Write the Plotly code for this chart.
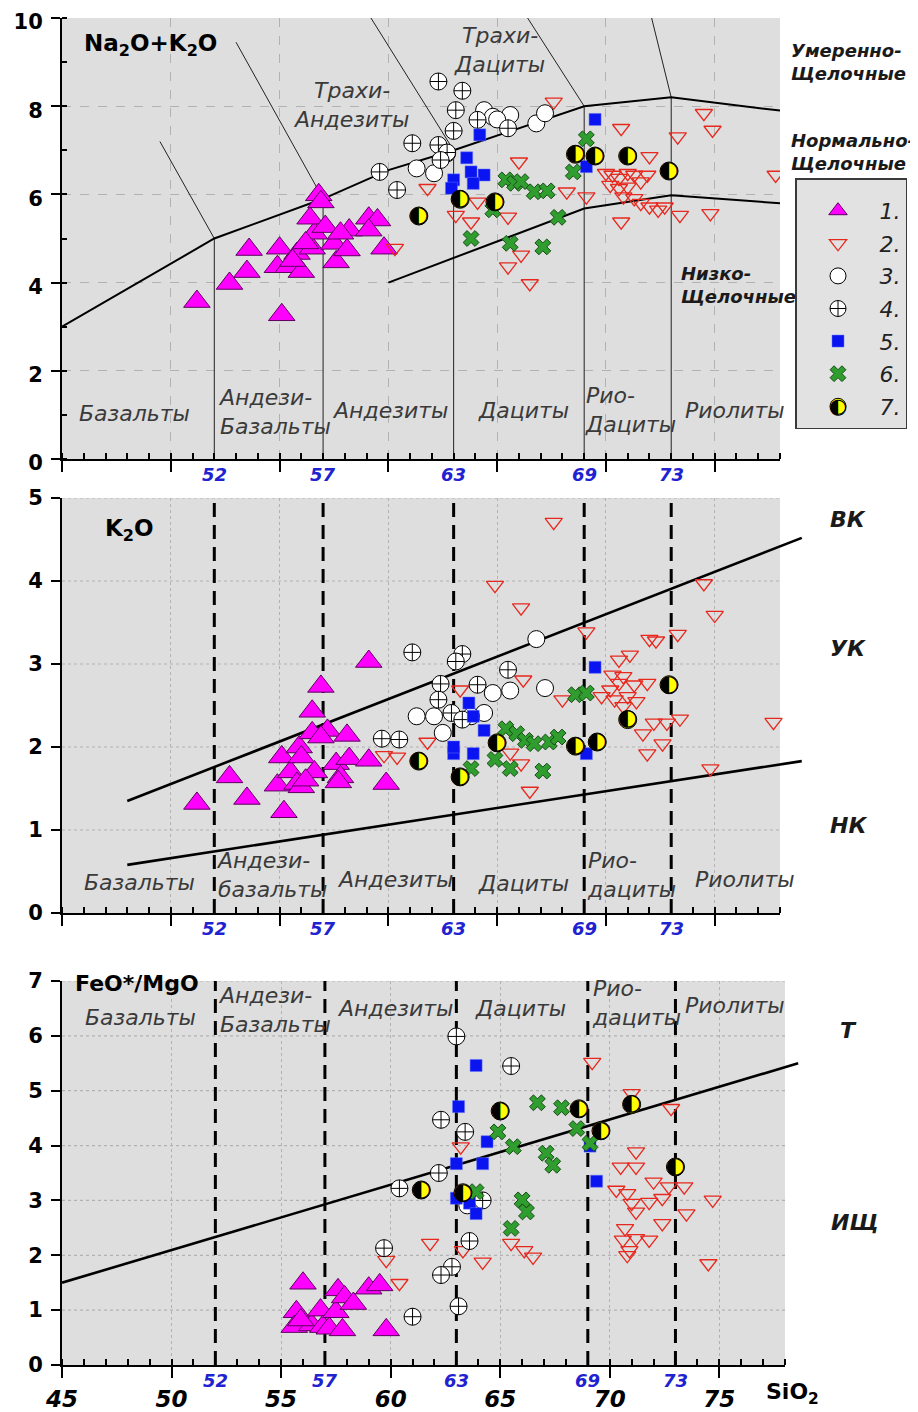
import plotly.graph_objects as go

# ------------------------------------------------------------------ data
# group 1 (magenta triangles)
g1_tas_sio2 = [51.2, 52.7, 53.5, 53.6, 55.1, 55.0, 54.9, 55.4, 56.0, 55.8, 56.5, 56.6, 56.4, 56.8,
               56.9, 57.1, 57.5, 57.6, 58.1, 58.2, 57.8, 59.1, 59.5, 59.1, 59.8, 55.6, 56.2]
g1_tas_alk = [3.57, 3.98, 4.25, 4.75, 3.27, 4.78, 4.36, 4.36, 4.25, 4.66, 4.78, 5.12, 5.46, 5.99,
              5.83, 5.27, 4.89, 4.47, 4.74, 5.19, 5.12, 5.46, 5.42, 5.19, 4.78, 4.50, 4.90]
g1_k_sio2 = [51.2, 52.7, 53.5, 55.2, 54.9, 55.1, 55.5, 55.8, 56.0, 55.9, 56.0, 56.5, 56.5, 56.6,
             56.2, 56.9, 57.2, 57.6, 57.8, 57.7, 58.1, 58.2, 59.1, 59.1, 59.9, 56.9]
g1_k2o = [1.32, 1.64, 1.38, 1.22, 1.54, 1.88, 1.70, 1.56, 1.52, 2.00, 1.88, 2.43, 2.17, 1.70,
          1.60, 2.73, 2.20, 1.80, 1.64, 1.58, 2.14, 1.86, 3.03, 1.84, 1.56, 2.12]
g1_f_sio2 = [56.0, 55.7, 55.6, 56.4, 56.8, 56.9, 57.2, 57.6, 57.5, 57.8, 57.9, 58.3, 59.0, 59.5, 59.8, 55.9]
g1_femg = [1.49, 0.97, 0.70, 0.73, 1.00, 0.70, 0.67, 1.37, 0.97, 0.64, 1.24, 1.12, 1.40, 1.46, 0.64, 0.82]

# group 2 (red open triangles)
g2_tas_sio2 = [60.3, 61.8, 63.1, 67.6, 66.0, 70.7, 72.0, 73.3, 74.5, 74.9, 64.1, 63.8, 65.5, 68.2,
               69.1, 66.1, 65.5, 66.5, 70.7, 73.4, 74.8, 70.0, 70.3, 70.6, 71.0, 71.3, 70.2, 70.6,
               71.0, 71.6, 71.9, 70.8, 71.3, 71.6, 72.0, 72.4, 72.7, 77.8]
g2_tas_alk = [4.78, 6.14, 5.53, 8.10, 6.74, 7.50, 6.86, 7.31, 7.84, 7.46, 5.83, 5.38, 5.49, 6.06,
              5.95, 4.63, 4.36, 3.98, 5.38, 5.53, 5.57, 6.48, 6.44, 6.37, 6.48, 6.44, 6.21, 6.14,
              6.17, 6.29, 6.44, 5.95, 5.91, 5.80, 5.72, 5.65, 5.72, 6.44]
g2_k_sio2 = [66.1, 69.1, 72.0, 72.3, 73.3, 71.1, 70.6, 70.3, 70.8, 71.3, 71.9, 70.6, 70.2, 71.0,
             71.4, 70.4, 70.8, 68.0, 69.8, 66.2, 61.8, 60.4, 59.8, 65.6, 66.1, 66.5, 71.7, 72.2,
             72.8, 73.4, 72.6, 71.9, 67.6, 64.9, 74.5, 75.0, 77.7, 74.8, 63.3]
g2_k2o = [3.68, 3.39, 3.30, 3.28, 3.36, 3.11, 3.05, 2.87, 2.85, 2.75, 2.77, 2.77, 2.69, 2.61,
          2.55, 2.57, 2.49, 2.57, 2.61, 2.81, 2.06, 1.88, 1.90, 1.93, 1.80, 1.47, 2.16, 2.29,
          2.29, 2.34, 2.04, 1.92, 4.71, 3.95, 3.97, 3.59, 2.30, 1.74, 2.69]
g2_f_sio2 = [69.2, 71.0, 72.8, 63.2, 71.2, 70.5, 71.2, 72.0, 72.7, 73.4, 70.3, 70.8, 71.0, 71.8,
             72.4, 71.2, 74.7, 73.5, 72.4, 70.7, 70.6, 71.2, 71.8, 70.9, 70.8, 74.5, 61.8, 64.2,
             65.5, 66.1, 66.5, 60.4, 59.8, 63.3]
g2_femg = [5.52, 4.95, 4.68, 3.98, 3.89, 3.61, 3.61, 3.34, 3.25, 3.25, 3.19, 3.13, 2.95, 2.97,
           3.04, 2.79, 3.01, 2.76, 2.58, 2.49, 2.28, 2.31, 2.28, 2.09, 2.00, 1.85, 2.22, 1.88,
           2.22, 2.09, 1.97, 1.49, 1.91, 2.09]

# group 3 (open circles)
g3_tas_sio2 = [61.3, 62.1, 62.7, 64.4, 64.8, 65.6, 66.8, 67.2, 65.0]
g3_tas_alk = [6.59, 6.48, 6.93, 7.91, 7.76, 7.80, 7.61, 7.84, 7.70]
g3_k_sio2 = [66.8, 67.2, 65.6, 64.8, 61.3, 62.1, 62.5, 64.4, 63.8]
g3_k2o = [3.30, 2.71, 2.68, 2.65, 2.37, 2.37, 2.17, 2.41, 2.37]
g3_f_sio2 = [63.5]
g3_femg = [2.91]

# group 4 (crossed circles)
g4_tas_sio2 = [62.3, 63.4, 63.1, 64.1, 63.0, 65.5, 62.3, 62.7, 62.4, 61.1, 59.6, 60.4]
g4_tas_alk = [8.56, 8.35, 7.91, 7.69, 7.44, 7.50, 7.12, 6.95, 6.78, 7.16, 6.51, 6.10]
g4_k_sio2 = [61.1, 63.4, 63.1, 65.5, 62.4, 64.1, 62.3, 62.9, 59.7, 60.5, 63.4]
g4_k2o = [3.14, 3.12, 3.03, 2.93, 2.76, 2.75, 2.57, 2.41, 2.10, 2.09, 2.33]
g4_f_sio2 = [63.0, 65.5, 62.3, 63.4, 62.2, 60.4, 63.6, 62.8, 62.3, 63.1, 61.0, 59.7, 64.2]
g4_femg = [5.99, 5.45, 4.47, 4.25, 3.50, 3.22, 2.26, 1.79, 1.64, 1.07, 0.88, 2.13, 3.00]

# group 5 (blue squares)
g5_tas_sio2 = [69.5, 64.2, 63.6, 63.8, 64.4, 63.9, 63.0, 62.9, 69.1]
g5_tas_alk = [7.70, 7.35, 6.83, 6.51, 6.44, 6.25, 6.33, 6.14, 6.63]
g5_k_sio2 = [69.5, 63.7, 63.9, 64.4, 63.0, 63.9, 69.1, 63.0]
g5_k2o = [2.96, 2.53, 2.37, 2.20, 1.92, 1.92, 1.92, 2.00]
g5_f_sio2 = [63.9, 63.1, 64.4, 63.0, 64.2, 69.1, 69.4, 63.0, 63.6, 63.9]
g5_femg = [5.46, 4.71, 4.07, 3.67, 3.67, 3.99, 3.35, 3.04, 2.95, 2.76]

# group 6 (green crosses)
g6_tas_sio2 = [69.1, 68.5, 65.4, 65.8, 66.1, 66.7, 67.3, 67.8, 63.8, 65.6, 67.1, 64.8]
g6_tas_alk = [7.26, 6.51, 6.33, 6.25, 6.29, 6.06, 6.08, 5.48, 5.00, 4.89, 4.81, 5.65]
g6_k_sio2 = [68.6, 69.1, 65.4, 65.9, 66.3, 66.7, 67.4, 67.8, 64.9, 65.6, 67.1, 63.8]
g6_k2o = [2.63, 2.65, 2.22, 2.16, 2.08, 2.04, 2.06, 2.12, 1.85, 1.74, 1.71, 1.74]
g6_f_sio2 = [66.7, 67.8, 68.5, 64.9, 65.6, 67.1, 67.4, 69.1, 66.0, 66.2, 65.5, 63.9]
g6_femg = [4.78, 4.69, 4.31, 4.25, 3.98, 3.86, 3.64, 4.04, 3.01, 2.79, 2.49, 3.16]

# group 7 (half-filled circles)
g7_tas_sio2 = [68.6, 69.5, 71.0, 72.9, 63.3, 64.9, 61.4]
g7_tas_alk = [6.91, 6.87, 6.87, 6.53, 5.89, 5.83, 5.51]
g7_k_sio2 = [72.9, 71.0, 65.0, 68.6, 69.6, 61.4, 63.3]
g7_k2o = [2.75, 2.33, 2.05, 2.01, 2.06, 1.83, 1.64]
g7_f_sio2 = [65.0, 68.6, 71.0, 69.6, 73.0, 61.4, 63.3]
g7_femg = [4.63, 4.67, 4.75, 4.27, 3.61, 3.19, 3.14]

legend_labels = ["1.", "2.", "3.", "4.", "5.", "6.", "7."]

# classification boundaries
tas_upper_sio2 = [45, 52, 57, 60, 63, 69, 73, 78]
tas_upper_alk = [3.0, 5.0, 5.9, 6.55, 7.0, 8.0, 8.2, 7.9]
tas_lower_sio2 = [60, 69, 73, 78]
tas_lower_alk = [4.0, 5.68, 5.98, 5.8]
tas_thin_sio2 = [49.5, 52, None, 53.0, 57, None, 59.2, 63, None, 66.4, 69, None, 72.1, 73, None,
                 52, 52, None, 57, 57, None, 63, 63, None, 69, 69, None, 73, 73]
tas_thin_alk = [7.2, 5.0, None, 9.45, 5.9, None, 10, 7.0, None, 10, 8.0, None, 10, 8.2, None,
                0, 5.0, None, 0, 5.9, None, 0, 7.0, None, 0, 8.0, None, 0, 8.2]
k_high_sio2 = [48, 79]
k_high_k2o = [1.35, 4.52]
k_low_sio2 = [48, 79]
k_low_k2o = [0.58, 1.83]
fm_sio2 = [45, 78.6]
fm_ratio = [1.5, 5.5]
border_sio2 = [52, 57, 63, 69, 73]
xtick_vals = [45, 50, 55, 60, 65, 70, 75]
xtick_text = ["45", "50", "55", "60", "65", "70", "75"]

# ------------------------------------------------------------------ styles
FONT = "DejaVu Sans"
styles = [
    dict(symbol="triangle-up", size=23, color="#ff00ff", line=dict(color="#5c005c", width=1)),
    dict(symbol="triangle-down-open", size=15, color="#e8281e", line=dict(color="#e8281e", width=1.3)),
    dict(symbol="circle", size=17, color="white", line=dict(color="black", width=1)),
    dict(symbol="circle-cross", size=17, color="white", line=dict(color="black", width=1)),
    dict(symbol="square", size=12, color="#0a14f0", line=dict(color="#6070ff", width=0.5)),
    dict(symbol="x", size=14, color="#2f9e2f", line=dict(color="#164c16", width=1)),
    dict(symbol="circle", size=18, color="#ffff00", line=dict(color="black", width=1)),
]
HALF = "\u25D0"

panels = [
    ("x", "y", [(g1_tas_sio2, g1_tas_alk), (g2_tas_sio2, g2_tas_alk), (g3_tas_sio2, g3_tas_alk),
                (g4_tas_sio2, g4_tas_alk), (g5_tas_sio2, g5_tas_alk), (g6_tas_sio2, g6_tas_alk),
                (g7_tas_sio2, g7_tas_alk)]),
    ("x4", "y2", [(g1_k_sio2, g1_k2o), (g2_k_sio2, g2_k2o), (g3_k_sio2, g3_k2o), (g4_k_sio2, g4_k2o),
                  (g5_k_sio2, g5_k2o), (g6_k_sio2, g6_k2o), (g7_k_sio2, g7_k2o)]),
    ("x5", "y3", [(g1_f_sio2, g1_femg), (g2_f_sio2, g2_femg), (g3_f_sio2, g3_femg), (g4_f_sio2, g4_femg),
                  (g5_f_sio2, g5_femg), (g6_f_sio2, g6_femg), (g7_f_sio2, g7_femg)]),
]

fig = go.Figure()

def line_trace(xs, ys, xa, ya, width, color="black"):
    fig.add_trace(go.Scatter(x=xs, y=ys, mode="lines", xaxis=xa, yaxis=ya, showlegend=False,
                             hoverinfo="skip", line=dict(color=color, width=width)))

line_trace(tas_thin_sio2, tas_thin_alk, "x", "y", 1, "#222222")
line_trace(tas_upper_sio2, tas_upper_alk, "x", "y", 2)
line_trace(tas_lower_sio2, tas_lower_alk, "x", "y", 2)
line_trace(k_high_sio2, k_high_k2o, "x4", "y2", 2.6)
line_trace(k_low_sio2, k_low_k2o, "x4", "y2", 2.6)
line_trace(fm_sio2, fm_ratio, "x5", "y3", 2.6)

for pi, (xa, ya, series) in enumerate(panels):
    for gi, (xs, ys) in enumerate(series):
        fig.add_trace(go.Scatter(
            x=xs, y=ys, mode="markers", xaxis=xa, yaxis=ya, marker=styles[gi],
            name=legend_labels[gi], legendgroup="g%d" % gi, showlegend=(pi == 0),
            hoverinfo="x+y"))
        if gi == 6:
            fig.add_trace(go.Scatter(
                x=xs, y=ys, mode="text", text=[HALF] * len(xs), textposition="middle center",
                textfont=dict(family=FONT, size=23, color="black"), xaxis=xa, yaxis=ya,
                showlegend=False, hoverinfo="skip"))

# ------------------------------------------------------------------ layout
# page body has an 8px margin: work in screen pixels and convert
OFF = 8
FW, FH = 918 - OFF, 1412 - OFF
ML = 62 - OFF
PW = FW - ML  # 856

def py(p):
    return 1 - (p - OFF) / FH

def px(p):
    return (p - 62) / PW

dom1 = [py(459), py(18)]
dom2 = [py(913), py(498)]
dom3 = [py(1365), py(981)]
xd12 = 718 / PW
xd3 = 723 / PW

def xax(dom, anchor, dash, labels=False):
    return dict(domain=[0, dom], range=[45, 78], anchor=anchor, showline=True, linecolor="black",
                linewidth=2, ticks="outside", ticklen=11, tickwidth=2, tickcolor="black",
                tickmode="array", tickvals=xtick_vals, ticktext=xtick_text, showticklabels=labels,
                tickfont=dict(family=FONT, size=23, weight="bold", style="italic", color="black"),
                ticklabelstandoff=1, ticklabeloverflow="allow",
                minor=dict(dtick=1, tick0=45, ticks="inside", ticklen=6, tickwidth=1.5, tickcolor="black"),
                showgrid=True, gridcolor="#b2b2b2", gridwidth=1, griddash=dash, zeroline=False,
                fixedrange=True)

def yax(dom, anchor, rng, vals, grid, minor=None, shift=0):
    d = dict(domain=dom, range=rng, anchor=anchor, showline=True, linecolor="black", linewidth=2,
             ticks="outside", ticklen=9, tickwidth=2, tickcolor="black", tickmode="array",
             tickvals=vals, tickfont=dict(family=FONT, size=21, weight="bold", color="black"),
             ticklabelstandoff=4, ticklabelshift=shift, ticklabeloverflow="allow", showgrid=grid,
             gridcolor="#b2b2b2", gridwidth=1, griddash="dash", zeroline=False, fixedrange=True)
    if minor:
        d["minor"] = dict(dtick=minor, ticks="inside", ticklen=5, tickwidth=1.5, tickcolor="black")
    return d

shapes = []
for xr, yr in [("x", "y"), ("x2", "y2"), ("x3", "y3")]:
    shapes.append(dict(type="rect", xref=xr + " domain", yref=yr + " domain", x0=0, x1=1, y0=0, y1=1,
                       fillcolor="#dedede", line=dict(width=0), layer="below"))
for yr, xr, vals in [("y2", "x2", [1, 2, 3, 4, 5]), ("y3", "x3", [1, 2, 3, 4, 5, 6, 7])]:
    for v in vals:
        shapes.append(dict(type="line", xref=xr + " domain", x0=0, x1=1, yref=yr, y0=v, y1=v,
                           line=dict(color="#b2b2b2", width=1.2, dash="dot"), layer="below"))
    for v in border_sio2:
        shapes.append(dict(type="line", xref=xr, x0=v, x1=v, yref=yr + " domain", y0=0, y1=1,
                           line=dict(color="black", width=3, dash="14px,8px"), layer="below"))

ann = []
def txt(text, x, y, xref, yref, size=22, xanchor="center", align="center", bold=False,
        italic=True, color="#3a3a3a"):
    ann.append(dict(text=text, x=x, y=y, xref=xref, yref=yref, showarrow=False, xanchor=xanchor,
                    yanchor="middle", align=align,
                    font=dict(family=FONT, size=size, color=color,
                              weight="bold" if bold else "normal",
                              style="italic" if italic else "normal")))

# panel 1 texts
txt("Na<sub>2</sub>O+K<sub>2</sub>O", 45.92, 9.39, "x", "y", 23, "left", "left", True, False, "black")
txt("Трахи-<br>Андезиты", 58.3, 8.03, "x", "y")
txt("Трахи-<br>Дациты", 65.13, 9.27, "x", "y")
txt("Базальты", 48.35, 1.04, "x", "y")
txt("Андези-<br>Базальты", 52.1, 1.07, "x", "y", xanchor="left", align="left")
txt("Андезиты", 60.07, 1.11, "x", "y")
txt("Дациты", 66.19, 1.09, "x", "y")
txt("Рио-<br>Дациты", 68.95, 1.11, "x", "y", xanchor="left", align="left")
txt("Риолиты", 75.93, 1.09, "x", "y")
txt("Умеренно-<br>Щелочные", px(789), py(62), "paper", "paper", 18, "left", "left", True, True, "#1a1a1a")
txt("Нормально-<br>Щелочные", px(789), py(152), "paper", "paper", 18, "left", "left", True, True, "#1a1a1a")
txt("Низко-<br>Щелочные", 73.35, 3.95, "x", "y", 18, "left", "left", True, True, "#1a1a1a")

# panel 2 texts
txt("K<sub>2</sub>O", 46.88, 4.61, "x2", "y2", 23, "left", "left", True, False, "black")
txt("Базальты", 48.58, 0.37, "x2", "y2")
txt("Андези-<br>базальты", 52.0, 0.46, "x2", "y2", xanchor="left", align="left")
txt("Андезиты", 60.3, 0.4, "x2", "y2")
txt("Дациты", 66.19, 0.36, "x2", "y2")
txt("Рио-<br>дациты", 69.05, 0.46, "x2", "y2", xanchor="left", align="left")
txt("Риолиты", 76.39, 0.4, "x2", "y2")
for lab, p in [("ВК", 520), ("УК", 648), ("НК", 825)]:
    txt(lab, px(848), py(p), "paper", "paper", 22, bold=True, color="#1a1a1a")

# panel 3 texts
txt("FeO*/MgO", 45.5, 6.96, "x3", "y3", 22, "left", "left", True, False, "black")
txt("Базальты", 48.56, 6.34, "x3", "y3")
txt("Андези-<br>Базальты", 52.05, 6.47, "x3", "y3", xanchor="left", align="left")
txt("Андезиты", 60.2, 6.5, "x3", "y3")
txt("Дациты", 65.91, 6.5, "x3", "y3")
txt("Рио-<br>дациты", 69.08, 6.59, "x3", "y3", xanchor="left", align="left")
txt("Риолиты", 75.73, 6.56, "x3", "y3")
txt("Т", px(848), py(1030), "paper", "paper", 22, bold=True, color="#1a1a1a")
txt("ИЩ", px(855), py(1222), "paper", "paper", 22, bold=True, color="#1a1a1a")
txt("SiO<sub>2</sub>", px(792), py(1393), "paper", "paper", 22, bold=True, italic=False, color="black")

# blue boundary tick labels
for xr, yr in [("x", "y"), ("x2", "y2"), ("x3", "y3")]:
    for v in border_sio2:
        ann.append(dict(text=str(v), x=v, y=0, xref=xr, yref=yr + " domain", yanchor="top",
                        yshift=-3, showarrow=False,
                        font=dict(family=FONT, size=18, color="#1f22d0", weight="bold", style="italic")))

# half-filled glyph over legend entry 7
ann.append(dict(text=HALF, x=px(838), y=py(406), xref="paper", yref="paper", showarrow=False,
                xanchor="center", yanchor="middle",
                font=dict(family=FONT, size=21, color="black")))

fig.update_layout(
    width=FW, height=FH, template="none",
    margin=dict(l=ML, r=0, t=0, b=0, autoexpand=False),
    paper_bgcolor="white", plot_bgcolor="rgba(0,0,0,0)",
    xaxis=xax(xd12, "y", "dash"),
    yaxis=yax(dom1, "x", [0, 10], [0, 2, 4, 6, 8, 10], True, 1, shift=4),
    xaxis2=xax(xd12, "y2", "dot"),
    yaxis2=yax(dom2, "x2", [0, 5], [0, 1, 2, 3, 4, 5], False),
    xaxis3=xax(xd3, "y3", "dot", labels=True),
    yaxis3=yax(dom3, "x3", [0, 7], [0, 1, 2, 3, 4, 5, 6, 7], False),
    xaxis4=dict(domain=[0, 1], range=[45, 45 + 33 / xd12], anchor="y2", visible=False, fixedrange=True),
    xaxis5=dict(domain=[0, 1], range=[45, 45 + 33 / xd3], anchor="y3", visible=False, fixedrange=True),
    shapes=shapes, annotations=ann,
    showlegend=True,
    legend=dict(x=px(795), y=py(178), xanchor="left", yanchor="top", bgcolor="#e2e2e2",
                bordercolor="#3a3a3a", borderwidth=1.5, itemwidth=73, tracegroupgap=1,
                title=dict(text=" ", font=dict(size=8)),
                font=dict(family=FONT, size=22, style="italic", color="#222222")),
)

fig.write_html("out.html")
